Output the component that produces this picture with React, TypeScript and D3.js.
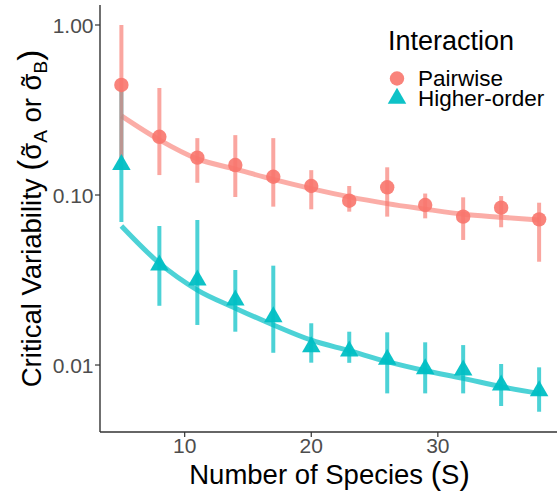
import React from "react";
import * as d3 from "d3";

// Number of species in each community
const species = [5, 8, 11, 14, 17, 20, 23, 26, 29, 32, 35, 38];

// Pairwise interactions: median critical variability with interval bounds
const pairwiseMid = [0.444, 0.22, 0.166, 0.15, 0.128, 0.113, 0.0926, 0.111, 0.0873, 0.0746, 0.0842, 0.0719];
const pairwiseLow = [0.161, 0.131, 0.118, 0.0973, 0.0854, 0.0824, 0.0798, 0.0746, 0.0729, 0.0544, 0.0646, 0.0405];
const pairwiseHigh = [1.0, 0.426, 0.216, 0.225, 0.216, 0.14, 0.113, 0.1455, 0.102, 0.0969, 0.0986, 0.0901];
const pairwiseFit = [0.292, 0.211, 0.163, 0.142, 0.1235, 0.109, 0.0975, 0.089, 0.0826, 0.077, 0.074, 0.0713];

// Higher-order interactions
const higherMid = [0.151, 0.0387, 0.0316, 0.0241, 0.0192, 0.01276, 0.01208, 0.01077, 0.00947, 0.00934, 0.00762, 0.00703];
const higherLow = [0.0694, 0.0223, 0.0172, 0.0157, 0.0118, 0.01032, 0.0103, 0.00681, 0.00681, 0.00681, 0.00574, 0.00531];
const higherHigh = [0.415, 0.0657, 0.0713, 0.0362, 0.0384, 0.0176, 0.0157, 0.01557, 0.0136, 0.0131, 0.01014, 0.00969];
const higherFit = [0.0657, 0.0397, 0.0276, 0.0216, 0.0172, 0.014, 0.01214, 0.01047, 0.00926, 0.00835, 0.00746, 0.00681];

const xTicks = [10, 20, 30];
const yTicks = [0.01, 0.1, 1];
const yTickLabels = ["0.01", "0.10", "1.00"];

const seriesNames = ["Pairwise", "Higher-order"];
const RED = "#F8766D";
const TEAL = "#00BFC4";
const FONT = "'Liberation Sans', Arial, Helvetica, sans-serif";

const W = 557;
const H = 491;
const PLOT_LEFT = 100;
const PLOT_TOP = 5;
const PLOT_BOTTOM = 432;

function trianglePath(cx: number, cy: number, w = 18.5, h = 16) {
  return `M${cx},${cy - (2 * h) / 3}L${cx + w / 2},${cy + h / 3}L${cx - w / 2},${cy + h / 3}Z`;
}

// sigma with a tilde placed over it, followed by a subscript letter
function SigmaTilde({ sub }: { sub: string }) {
  return (
    <>
      <tspan>σ</tspan>
      <tspan dx={-12.4}>˜</tspan>
      <tspan dx={3.2} fontSize={19} dy={6}>
        {sub}
      </tspan>
    </>
  );
}

export default function App() {
  const x = d3.scaleLinear().domain([3.35, 39.65]).range([100.5, 560]);
  const y = d3.scaleLog().domain([0.004036, 1.311]).range([PLOT_BOTTOM, PLOT_TOP]);

  const line = d3
    .line<[number, number]>()
    .x((d) => x(d[0]))
    .y((d) => y(d[1]))
    .curve(d3.curveMonotoneX);

  const pairFitPts = species.map((s, i) => [s, pairwiseFit[i]] as [number, number]);
  const highFitPts = species.map((s, i) => [s, higherFit[i]] as [number, number]);

  return (
    <svg
      width={W}
      height={H}
      style={{ position: "absolute", left: 0, top: 0, background: "#fff" }}
      fontFamily={FONT}
    >
      <rect x={0} y={0} width={W} height={H} fill="#fff" />

      {/* fitted trends */}
      <path d={line(pairFitPts) || ""} fill="none" stroke={RED} strokeOpacity={0.6} strokeWidth={5} />
      <path d={line(highFitPts) || ""} fill="none" stroke={TEAL} strokeOpacity={0.7} strokeWidth={5} />

      {/* interval bars */}
      {species.map((s, i) => (
        <line
          key={`he${s}`}
          x1={x(s)}
          x2={x(s)}
          y1={y(higherLow[i])}
          y2={y(higherHigh[i])}
          stroke={TEAL}
          strokeOpacity={0.7}
          strokeWidth={4}
        />
      ))}
      {species.map((s, i) => (
        <line
          key={`pe${s}`}
          x1={x(s)}
          x2={x(s)}
          y1={y(pairwiseLow[i])}
          y2={y(pairwiseHigh[i])}
          stroke={RED}
          strokeOpacity={0.65}
          strokeWidth={4}
        />
      ))}

      {/* points */}
      {species.map((s, i) => (
        <circle key={`pp${s}`} cx={x(s)} cy={y(pairwiseMid[i])} r={7.2} fill={RED} fillOpacity={0.9} />
      ))}
      {species.map((s, i) => (
        <path key={`hp${s}`} d={trianglePath(x(s), y(higherMid[i]))} fill={TEAL} fillOpacity={0.95} />
      ))}

      {/* axes */}
      <line x1={PLOT_LEFT} x2={PLOT_LEFT} y1={PLOT_TOP} y2={PLOT_BOTTOM} stroke="#333" strokeWidth={1.4} />
      <line x1={PLOT_LEFT} x2={W} y1={PLOT_BOTTOM} y2={PLOT_BOTTOM} stroke="#333" strokeWidth={1.4} />
      {yTicks.map((t, i) => (
        <g key={`yt${t}`}>
          <line x1={PLOT_LEFT - 5} x2={PLOT_LEFT} y1={y(t)} y2={y(t)} stroke="#333" strokeWidth={1.2} />
          <text x={PLOT_LEFT - 6.5} y={y(t)} dy="0.36em" textAnchor="end" fontSize={21} fill="#4D4D4D">
            {yTickLabels[i]}
          </text>
        </g>
      ))}
      {xTicks.map((t) => (
        <g key={`xt${t}`}>
          <line x1={x(t)} x2={x(t)} y1={PLOT_BOTTOM} y2={PLOT_BOTTOM + 5} stroke="#333" strokeWidth={1.2} />
          <text x={x(t)} y={PLOT_BOTTOM + 21} textAnchor="middle" fontSize={21} fill="#4D4D4D">
            {t}
          </text>
        </g>
      ))}

      {/* axis titles */}
      <text x={329.5} y={484} textAnchor="middle" fontSize={27.5} fill="#000">
        Number of Species <tspan fontSize={31}>(</tspan>S<tspan fontSize={31}>)</tspan>
      </text>
      <text
        transform={`translate(41,${(PLOT_TOP + PLOT_BOTTOM) / 2}) rotate(-90)`}
        textAnchor="middle"
        fontSize={27.5}
        fill="#000"
      >
        Critical Variability <tspan fontSize={33}>(</tspan>
        <SigmaTilde sub="A" />
        <tspan dy={-6}> or </tspan>
        <SigmaTilde sub="B" />
        <tspan fontSize={33} dy={-6}>)</tspan>
      </text>

      {/* legend */}
      <text x={388} y={50} fontSize={27} fill="#000">
        Interaction
      </text>
      <circle cx={397} cy={78.5} r={7.2} fill={RED} fillOpacity={0.9} />
      <path d={trianglePath(397, 98.5)} fill={TEAL} fillOpacity={0.95} />
      <text x={418} y={85.5} fontSize={22.5} fill="#000">
        {seriesNames[0]}
      </text>
      <text x={418} y={105.5} fontSize={22.5} fill="#000">
        {seriesNames[1]}
      </text>
    </svg>
  );
}
